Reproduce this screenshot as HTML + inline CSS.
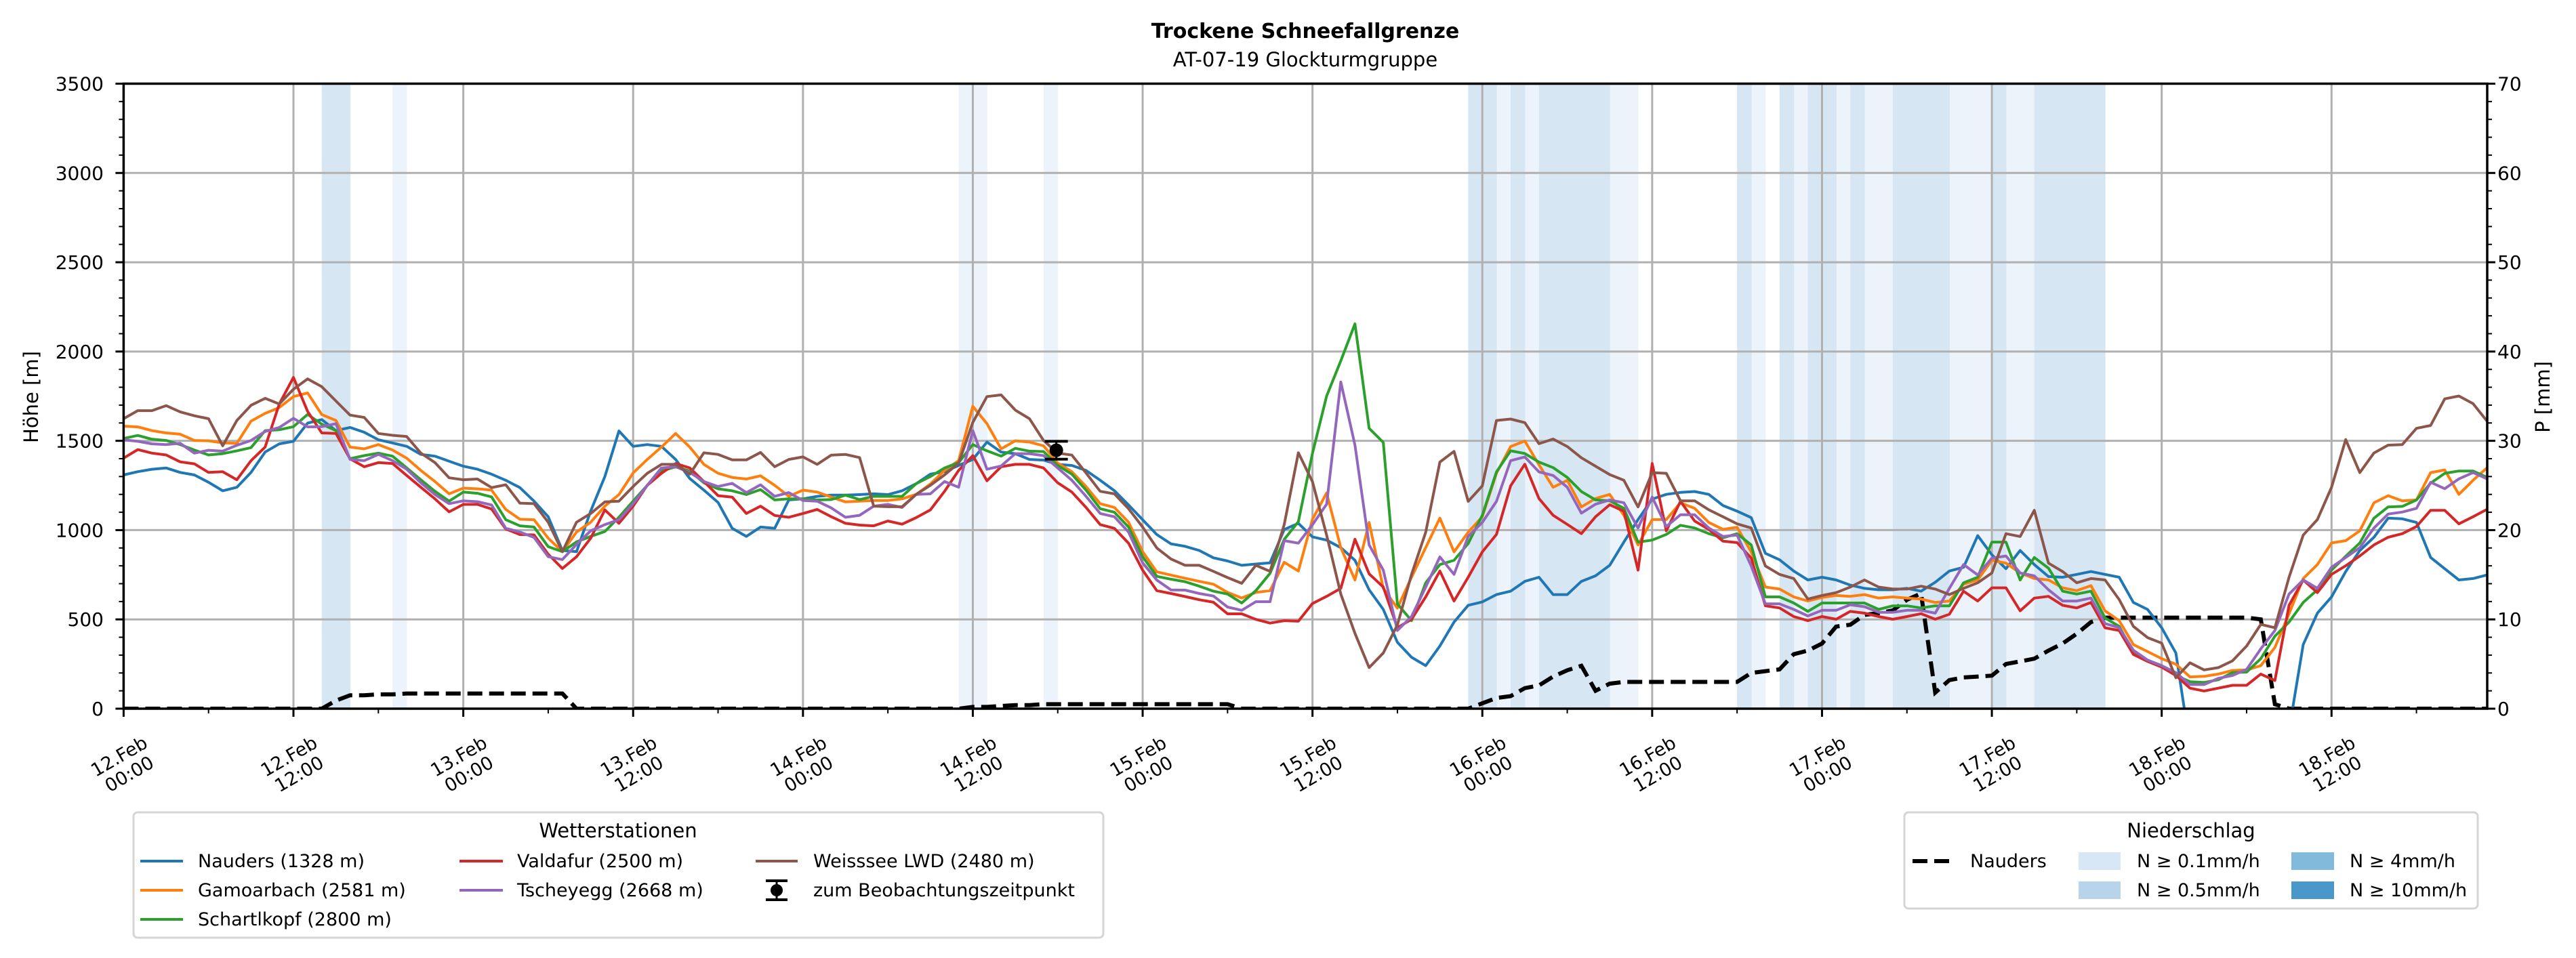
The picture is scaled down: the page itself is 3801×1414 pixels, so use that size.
<!DOCTYPE html>
<html><head><meta charset="utf-8"><title>Trockene Schneefallgrenze</title>
<style>
html,body{margin:0;padding:0;background:#fff;}
svg{display:block;font-family:"DejaVu Sans","Liberation Sans",sans-serif;}
</style></head>
<body>
<svg id="chart" xmlns="http://www.w3.org/2000/svg" width="3801" height="1414" viewBox="0 0 3801 1414">
<rect width="3801" height="1414" fill="#fff"/>
<text x="1926" y="56" font-size="30" font-weight="bold" text-anchor="middle">Trockene Schneefallgrenze</text>
<text x="1926" y="98" font-size="29" text-anchor="middle">AT-07-19 Glockturmgruppe</text>
<g id="bands"></g>
<g id="grid"></g>
<g id="series"></g>
<g id="axes"></g>
<text transform="translate(56,586) rotate(-90)" font-size="29" text-anchor="middle">Höhe [m]</text>
<text transform="translate(3762,586) rotate(-90)" font-size="29" text-anchor="middle">P [mm]</text>

<g>
<rect x="197" y="1199" width="1431" height="185" rx="6" fill="#fff" stroke="#d5d5d5" stroke-width="3"/>
<text x="912" y="1236" font-size="29" text-anchor="middle">Wetterstationen</text>
<g font-size="27">
<g><line x1="207" y1="1271" x2="270" y2="1271" stroke="#1f77b4" stroke-width="4"/><text x="292" y="1280">Nauders (1328 m)</text></g>
<g><line x1="207" y1="1314" x2="270" y2="1314" stroke="#ff7f0e" stroke-width="4"/><text x="292" y="1323">Gamoarbach (2581 m)</text></g>
<g><line x1="207" y1="1357" x2="270" y2="1357" stroke="#2ca02c" stroke-width="4"/><text x="292" y="1366">Schartlkopf (2800 m)</text></g>
<g><line x1="678" y1="1271" x2="742" y2="1271" stroke="#d62728" stroke-width="4"/><text x="763" y="1280">Valdafur (2500 m)</text></g>
<g><line x1="678" y1="1314" x2="742" y2="1314" stroke="#9467bd" stroke-width="4"/><text x="763" y="1323">Tscheyegg (2668 m)</text></g>
<g><line x1="1115" y1="1271" x2="1177" y2="1271" stroke="#8c564b" stroke-width="4"/><text x="1200" y="1280">Weisssee LWD (2480 m)</text></g>
<g><line x1="1146" y1="1300" x2="1146" y2="1328" stroke="#000" stroke-width="3"/><line x1="1130" y1="1300" x2="1162" y2="1300" stroke="#000" stroke-width="4"/><line x1="1130" y1="1328" x2="1162" y2="1328" stroke="#000" stroke-width="4"/><circle cx="1146" cy="1314" r="9"/><text x="1200" y="1323">zum Beobachtungszeitpunkt</text></g>
</g></g>

<g>
<rect x="2810" y="1199" width="846" height="142" rx="6" fill="#fff" stroke="#d5d5d5" stroke-width="3"/>
<text x="3233" y="1236" font-size="29" text-anchor="middle">Niederschlag</text>
<g font-size="27">
<g><line x1="2822" y1="1271" x2="2880" y2="1271" stroke="#000" stroke-width="6" stroke-dasharray="22,10"/><text x="2907" y="1280">Nauders</text></g>
<g><rect x="3067" y="1258" width="62" height="26" fill="#d8e7f5"/><text x="3153" y="1280">N ≥ 0.1mm/h</text></g>
<g><rect x="3067" y="1301" width="62" height="26" fill="#b7d4ea"/><text x="3153" y="1323">N ≥ 0.5mm/h</text></g>
<g><rect x="3381" y="1258" width="63" height="26" fill="#82badb"/><text x="3467" y="1280">N ≥ 4mm/h</text></g>
<g><rect x="3381" y="1301" width="63" height="26" fill="#4a98c9"/><text x="3467" y="1323">N ≥ 10mm/h</text></g>
</g></g>
</svg>
<script>
// ---- data (hourly from 12.Feb 00:00) ----
const nauders = [1309,1327,1341,1348,1323,1309,1268,1220,1240,1323,1437,1483,1497,1599,1619,1557,1575,1548,1506,1488,1469,1424,1414,1386,1358,1341,1313,1279,1238,
1162,1075,886,879,1107,1300,1555,1469,1479,1469,1396,1289,1224,1155,1010,965,1017,1010,1169,1175,1189,1196,1196,1199,1203,1199,1220,1260,
1313,1327,1362,1396,1493,1437,1428,1396,1392,1368,1362,1334,1279,1221,1141,1058,975,923,909,886,845,827,803,810,817,1003,1038,962,
944,902,831,666,556,372,288,241,351,485,579,598,639,658,713,736,639,639,713,744,803,933,1059,1174,1200,1211,1216,1200,
1138,1106,1070,870,834,771,721,736,721,692,674,666,666,674,658,708,771,792,969,862,784,886,807,740,736,752,768,
752,736,595,556,453,312,-210,-300,-300,-300,-300,-300,-300,-120,359,535,626,768,886,960,1067,1063,1043,847,784,721,729,749];
const gamoarbach = [1582,1578,1557,1544,1537,1502,1500,1488,1486,1610,1654,1686,1748,1768,1647,1614,1465,1455,1479,1448,1403,1334,1272,1203,1235,1231,1224,1116,1061,
1058,955,879,989,1044,1134,1199,1320,1396,1465,1541,1465,1368,1318,1295,1286,1304,1251,1189,1224,1213,1185,1158,1162,1166,1166,1175,1200,
1258,1334,1389,1693,1596,1455,1500,1493,1472,1375,1327,1244,1148,1127,1044,879,766,748,730,713,697,651,620,651,661,820,771,1060,
1208,902,721,1043,674,563,736,902,1067,878,988,1075,1318,1468,1499,1366,1240,1279,1130,1177,1200,1083,917,1059,1059,1153,1122,1043,
1004,1016,878,681,670,626,603,623,634,629,639,619,626,619,614,595,603,697,721,831,815,760,729,721,677,661,689,
548,493,359,320,280,249,178,181,194,214,217,241,343,532,729,807,928,941,996,1153,1193,1164,1169,1322,1337,1200,1279,1350];
const schartlkopf = [1513,1530,1509,1502,1479,1448,1421,1428,1444,1462,1557,1562,1579,1648,1593,1557,1400,1417,1431,1414,1348,1282,1217,1162,1213,1206,1186,1058,1024,
1017,907,879,934,965,992,1072,1162,1251,1331,1355,1331,1265,1231,1220,1199,1227,1169,1175,1175,1169,1171,1196,1171,1189,1189,1189,1260,
1300,1348,1378,1479,1444,1414,1458,1442,1440,1362,1313,1224,1120,1100,1017,851,741,725,711,686,658,642,592,661,758,948,1047,1430,
1751,1948,2155,1570,1491,587,493,705,807,831,925,1083,1326,1444,1429,1381,1350,1295,1216,1169,1164,1122,933,944,976,1027,1012,980,
957,980,917,626,626,592,545,592,592,592,592,556,576,576,564,576,576,705,736,933,933,721,847,787,658,642,658,
508,461,312,272,241,186,151,147,162,202,205,280,406,485,595,666,776,854,928,1067,1130,1133,1169,1263,1318,1331,1331,1295];
const valdafur = [1403,1451,1431,1421,1382,1371,1323,1327,1282,1389,1465,1706,1855,1665,1544,1541,1399,1355,1378,1373,1306,1240,1175,1102,1144,1144,1118,1006,975,
973,865,785,851,955,1113,1038,1134,1251,1318,1373,1348,1272,1193,1185,1093,1134,1082,1072,1093,1116,1075,1038,1028,1024,1051,1033,1070,
1113,1217,1334,1417,1276,1355,1368,1368,1348,1265,1213,1127,1031,1010,927,776,661,645,628,610,596,531,531,500,479,493,490,589,
629,674,949,755,681,453,501,626,771,603,736,878,976,1248,1369,1177,1083,1032,980,1075,1142,1106,776,1373,996,1161,1051,1004,
938,930,843,576,564,516,493,516,501,545,535,516,501,516,532,501,529,658,603,677,677,548,619,629,579,564,595,
453,438,304,265,233,186,115,99,115,131,131,194,158,579,721,650,752,800,855,917,960,980,1020,1111,1111,1035,1075,1117];
const tscheyegg = [1506,1497,1483,1479,1486,1431,1447,1442,1475,1502,1552,1575,1626,1578,1579,1596,1396,1389,1424,1389,1341,1265,1199,1148,1164,1159,1141,1010,989,
959,851,835,920,996,1031,1058,1148,1251,1348,1355,1323,1272,1244,1262,1210,1254,1189,1210,1166,1162,1124,1072,1083,1134,1144,1127,1200,
1203,1272,1240,1557,1341,1359,1428,1428,1417,1348,1279,1189,1093,1075,989,817,720,665,664,645,631,569,551,599,599,941,927,1030,
1145,1830,1476,917,776,438,516,681,850,752,965,1043,1161,1389,1410,1326,1306,1240,1095,1145,1169,1153,1012,1185,1020,1086,1086,1012,
964,972,799,587,587,556,519,551,551,582,571,540,540,551,551,535,674,807,749,843,855,760,744,666,603,603,619,
477,453,327,272,241,202,135,135,170,186,220,335,438,642,721,674,792,847,902,1012,1090,1101,1122,1268,1232,1287,1322,1287];
const weisssee = [1624,1669,1669,1697,1662,1640,1624,1472,1614,1699,1738,1706,1789,1847,1803,1723,1644,1631,1541,1531,1524,1431,1378,1293,1282,1286,1238,1254,1151,
1148,1044,879,1044,1093,1158,1162,1244,1318,1368,1368,1313,1433,1424,1393,1393,1435,1355,1396,1410,1368,1420,1424,1406,1134,1131,1131,1200,
1251,1309,1375,1603,1748,1757,1672,1624,1502,1431,1420,1320,1217,1203,1120,1017,900,838,803,803,769,734,702,803,769,1031,1433,1271,
972,642,422,230,312,469,752,988,1381,1441,1161,1248,1614,1622,1602,1484,1510,1468,1405,1358,1311,1279,1130,1322,1318,1164,1164,1114,
1075,1035,1012,799,752,729,614,634,650,681,721,681,670,670,686,670,639,674,705,760,980,964,1111,815,768,705,729,
721,611,461,398,367,173,257,217,230,268,351,472,453,736,972,1059,1240,1507,1322,1432,1476,1479,1570,1586,1735,1751,1708,1609];
const precipNauders = [0,0,0,0,0,0,0,0,0,0,0,0,0,0,0,0.9,1.5,1.5,1.6,1.6,1.7,1.7,1.7,1.7,1.7,1.7,1.7,1.7,1.7,1.7,1.7,1.7,
0,0,0,0,0,0,0,0,0,0,0,0,0,0,0,0,0,0,0,0,0,0,0,0,0,0,0,0,0.2,0.2,0.3,0.4,0.4,0.5,0.5,0.5,0.5,0.5,0.5,0.5,0.5,0.5,0.5,0.5,0.5,0.5,0.5,
0,0,0,0,0,0,0,0,0,0,0,0,0,0,0,0,0,0.6,1.2,1.4,2.3,2.6,3.6,4.3,4.8,2.0,2.8,3,3,3,3,3,3,3,3,3,4.0,4.2,4.4,6.1,6.5,7.3,9.2,9.4,10.5,10.7,11.0,12.2,12.9,
1.8,3.2,3.5,3.6,3.7,5.0,5.3,5.6,6.5,7.3,8.4,9.7,10.2,10.2,10.2,10.2,10.2,10.2,10.2,10.2,10.2,10.2,10.2,10.0,0.5,0,0,0,0,0,0,0,0,0,0,0,0,0,0,0];
const bandLight = [19,59,60,65,97,99,105,106,115,118,121,123,124,129,130,131,133,134];
const bandMedium = [14,15,95,96,98,100,101,102,103,104,114,117,119,120,122,125,126,127,128,132,135,136,137,138,139];
const observation = {hour:65.9, value:1447, err:50};
const yTicks = [0,500,1000,1500,2000,2500,3000,3500];
const y2Ticks = [0,10,20,30,40,50,60,70];
const xTickLabels = [["12.Feb","00:00"],["12.Feb","12:00"],["13.Feb","00:00"],["13.Feb","12:00"],["14.Feb","00:00"],["14.Feb","12:00"],["15.Feb","00:00"],["15.Feb","12:00"],["16.Feb","00:00"],["16.Feb","12:00"],["17.Feb","00:00"],["17.Feb","12:00"],["18.Feb","00:00"],["18.Feb","12:00"]];

// ---- layout ----
const L=182.4, R=3670, T=123.5, B=1046, HOURS=167, YMAX=3500, PMAX=70;
const xs = h => L + (R-L)*h/HOURS;
const ys = v => B - (B-T)*v/YMAX;
const yp = p => B - (B-T)*p/PMAX;
const NS="http://www.w3.org/2000/svg";
function mk(tag, attrs, parent){const e=document.createElementNS(NS,tag);for(const k in attrs)e.setAttribute(k,attrs[k]);parent.appendChild(e);return e;}

const bands=document.getElementById('bands');
bandLight.forEach(h=>{const r=mk('rect',{x:xs(h),y:T,width:xs(h+1)-xs(h)+0.5,height:B-T,fill:'#edf3fa'},bands);

});
bandMedium.forEach(h=>{const r=mk('rect',{x:xs(h),y:T,width:xs(h+1)-xs(h)+0.5,height:B-T,fill:'#d6e6f3'},bands);

});

const grid=document.getElementById('grid');
yTicks.forEach(v=>{const g=mk('line',{x1:L,x2:R,y1:ys(v),y2:ys(v),stroke:'#b0b0b0','stroke-width':3},grid);

});
xTickLabels.forEach((lab,i)=>{const g=mk('line',{x1:xs(i*12),x2:xs(i*12),y1:T,y2:B,stroke:'#b0b0b0','stroke-width':3},grid);

});

const sg=document.getElementById('series');
const clip=mk('clipPath',{id:'plotclip'},mk('defs',{},sg));
mk('rect',{x:L,y:T,width:R-L,height:B-T},clip);
const seriesList=[['nauders',nauders,'#1f77b4'],['gamoarbach',gamoarbach,'#ff7f0e'],['schartlkopf',schartlkopf,'#2ca02c'],['valdafur',valdafur,'#d62728'],['tscheyegg',tscheyegg,'#9467bd'],['weisssee',weisssee,'#8c564b']];
const pd=mk('path',{d:precipNauders.map((p,i)=>(i?'L':'M')+xs(i).toFixed(1)+','+yp(p).toFixed(1)).join(''),fill:'none',stroke:'#000','stroke-width':6,'stroke-dasharray':'22,10','clip-path':'url(#plotclip)'},sg);


seriesList.forEach(([n,arr,c])=>{
 const p=mk('path',{d:arr.map((v,i)=>(i?'L':'M')+xs(i).toFixed(1)+','+ys(v).toFixed(1)).join(''),fill:'none',stroke:c,'stroke-width':4,'stroke-linejoin':'round','clip-path':'url(#plotclip)'},sg);
 
 
});
const ob=mk('g',{},sg);


const ox=xs(observation.hour);
mk('line',{x1:ox,x2:ox,y1:ys(observation.value+observation.err),y2:ys(observation.value-observation.err),stroke:'#000','stroke-width':3},ob);
mk('line',{x1:ox-17,x2:ox+17,y1:ys(observation.value+observation.err),y2:ys(observation.value+observation.err),stroke:'#000','stroke-width':4},ob);
mk('line',{x1:ox-17,x2:ox+17,y1:ys(observation.value-observation.err),y2:ys(observation.value-observation.err),stroke:'#000','stroke-width':4},ob);
mk('circle',{cx:ox,cy:ys(observation.value),r:10,fill:'#000'},ob);

const ax=document.getElementById('axes');
mk('rect',{x:L,y:T,width:R-L,height:B-T,fill:'none',stroke:'#000','stroke-width':3.5},ax);
for(let v=0;v<=YMAX;v+=100){const major=v%500===0;
 mk('line',{x1:L,x2:L-(major?12:7),y1:ys(v),y2:ys(v),stroke:'#000','stroke-width':major?3:2},ax);
 mk('line',{x1:R,x2:R+(major?12:7),y1:ys(v),y2:ys(v),stroke:'#000','stroke-width':major?3:2},ax);}
yTicks.forEach(v=>{const t=mk('text',{x:153,y:ys(v)+10,'font-size':28,'text-anchor':'end'},ax);t.textContent=v;

});
y2Ticks.forEach(p=>{const t=mk('text',{x:3685,y:yp(p)+10,'font-size':28},ax);t.textContent=p;

});
for(let h=0;h<=HOURS;h+=6){const major=h%12===0;
 mk('line',{x1:xs(h),x2:xs(h),y1:B,y2:B+(major?12:7),stroke:'#000','stroke-width':major?3:2},ax);}
xTickLabels.forEach((lab,i)=>{const x=xs(i*12);
 const t=mk('text',{transform:`translate(${x},1128) rotate(-30)`,'font-size':27,'text-anchor':'middle'},ax);
 
 
 mk('tspan',{x:0,y:-4},t).textContent=lab[0];
 mk('tspan',{x:0,y:26},t).textContent=lab[1];});
</script>
</body></html>
